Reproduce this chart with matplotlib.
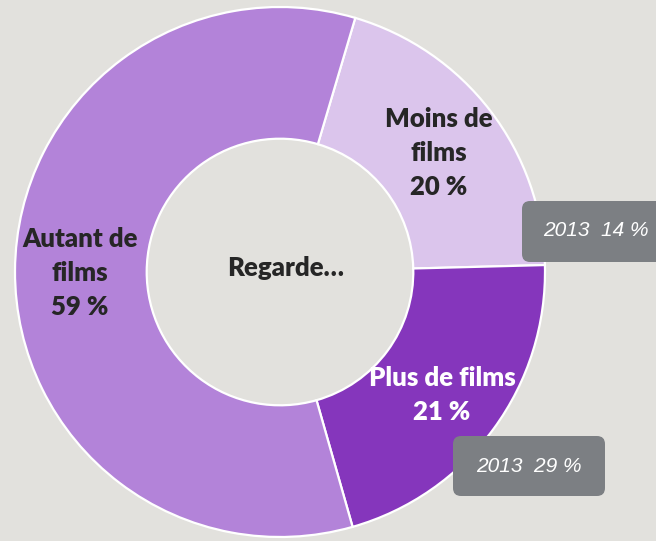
import matplotlib.pyplot as plt
from matplotlib.patches import FancyBboxPatch

# data
labels = ['Moins de\nfilms\n20 %', 'Plus de films\n21 %', 'Autant de\nfilms\n59 %']
shares = [20, 21, 59]
colors = ['#DBC5EC', '#8536BC', '#B383D9']
label_colors = ['#262626', 'white', '#262626']
center_text = 'Regarde…'
notes_2013 = ['2013  14 %', '2013  29 %']

W, H = 656, 541
bg = '#E2E1DD'

fig = plt.figure(figsize=(W / 100, H / 100), dpi=100, facecolor=bg)
ax = fig.add_axes([0, 0, 1, 1])

cx, cy, r = 280, H - 272, 265
ax.pie(shares, colors=colors, startangle=73.5, counterclock=False,
       center=(cx, cy), radius=r, frame=True,
       wedgeprops=dict(width=r * 0.497, edgecolor='white', linewidth=1.6))
ax.set_xlim(0, W)
ax.set_ylim(0, H)
ax.set_facecolor(bg)
ax.axis('off')

lab_font = dict(family=['Lato', 'DejaVu Sans'], fontweight='heavy', fontsize=18.5,
                ha='center', va='center', linespacing=1.5)
label_pos = [(439, H - 153), (442, H - 395), (80, H - 273)]
for txt, pos, c in zip(labels, label_pos, label_colors):
    ax.text(pos[0], pos[1], txt, color=c, **lab_font)

ax.text(286, H - 268, center_text, color='#262626', **lab_font)

# grey 2013 boxes
boxes = [(522, H - 262, 150, 61), (453, H - 496, 152, 60)]
text_pos = [(596, H - 231), (529, H - 467)]
for (x, y, w, h), note, tp in zip(boxes, notes_2013, text_pos):
    ax.add_patch(FancyBboxPatch((x, y), w, h,
                                boxstyle='round,pad=0,rounding_size=8',
                                facecolor='#7C7F83', edgecolor='none'))
    ax.text(tp[0], tp[1], note, color='white', fontsize=15, style='italic',
            family='Liberation Sans', ha='center', va='center')

fig.savefig('out.png', dpi=100, facecolor=bg)
